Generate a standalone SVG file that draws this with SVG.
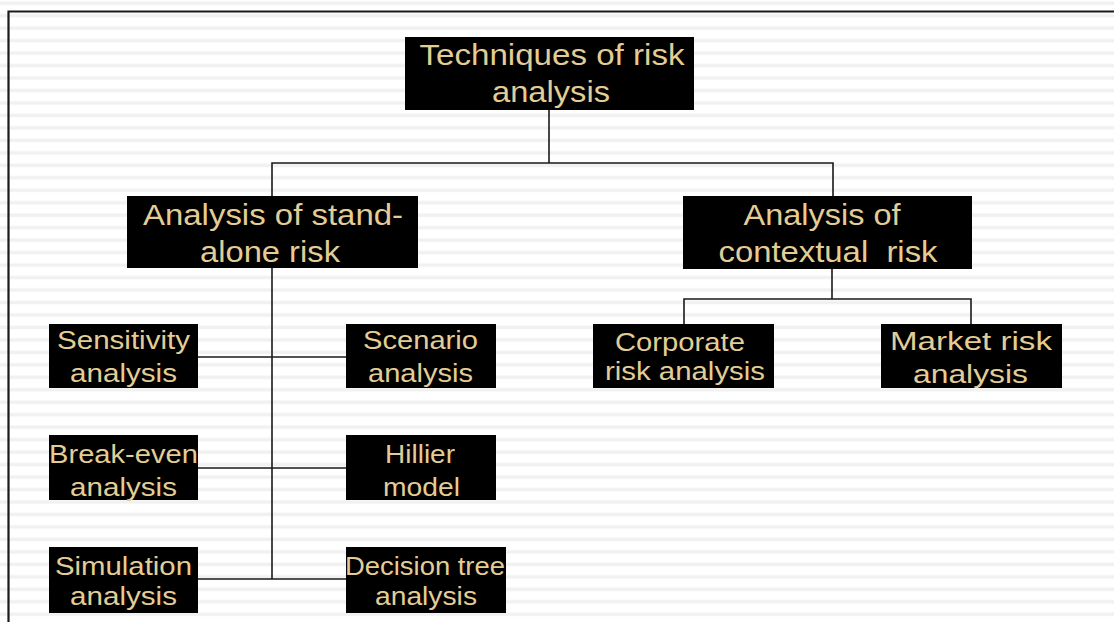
<svg xmlns="http://www.w3.org/2000/svg" width="1114" height="622" viewBox="0 0 1114 622">
<defs>
<pattern id="stripes" patternUnits="userSpaceOnUse" width="1114" height="12.47" y="0">
<rect x="0" y="0" width="1114" height="12.47" fill="#ffffff"/>
<rect x="0" y="1.5" width="1114" height="3.4" fill="#f1f1f1"/>
</pattern>
</defs>
<style>
.box{fill:#000000;}
.t{font-family:"Liberation Sans",Arial,sans-serif;fill:#e3cd97;text-anchor:middle;}
.big{font-size:30px;}
.sm{font-size:25px;}
.conn{stroke:#1a1a1a;stroke-width:1.6;fill:none;}
.frame{stroke:#1a1a1a;stroke-width:2.2;fill:none;}
</style>
<rect x="0" y="0" width="1114" height="622" fill="url(#stripes)"/>
<path class="frame" d="M8.5,640 V11.5 H1130"/>
<g id="connectors">
<path class="conn" d="M549,110 V163"/>
<path class="conn" d="M272,196 V163 H833 V196"/>
<path class="conn" d="M272,268 V579"/>
<path class="conn" d="M198,357 H346"/>
<path class="conn" d="M198,468 H346"/>
<path class="conn" d="M198,579 H346"/>
<path class="conn" d="M832,269 V299"/>
<path class="conn" d="M684,324 V299 H971 V324"/>
</g>
<g id="n-root">
<rect class="box" x="405" y="37" width="289" height="73"/>
<text class="t" style="font-size:29px" x="552" y="65" textLength="265" lengthAdjust="spacingAndGlyphs">Techniques of risk</text>
<text class="t" style="font-size:29px" x="551" y="102" textLength="118" lengthAdjust="spacingAndGlyphs">analysis</text>
</g>
<g id="n-standalone">
<rect class="box" x="127" y="196" width="291" height="72"/>
<text class="t big" x="273" y="225" textLength="260" lengthAdjust="spacingAndGlyphs">Analysis of stand-</text>
<text class="t big" x="270" y="262" textLength="140" lengthAdjust="spacingAndGlyphs">alone risk</text>
</g>
<g id="n-contextual">
<rect class="box" x="683" y="196" width="289" height="73"/>
<text class="t big" x="822" y="225" textLength="157" lengthAdjust="spacingAndGlyphs">Analysis of</text>
<text class="t big" x="828" y="262" textLength="219" lengthAdjust="spacingAndGlyphs" xml:space="preserve">contextual  risk</text>
</g>
<g id="n-sensitivity">
<rect class="box" x="49" y="324" width="149" height="64"/>
<text class="t sm" x="123.5" y="349" textLength="133" lengthAdjust="spacingAndGlyphs">Sensitivity</text>
<text class="t sm" x="123.5" y="382" textLength="107" lengthAdjust="spacingAndGlyphs">analysis</text>
</g>
<g id="n-scenario">
<rect class="box" x="346" y="324" width="150" height="64"/>
<text class="t sm" x="420.5" y="349" textLength="115" lengthAdjust="spacingAndGlyphs">Scenario</text>
<text class="t sm" x="420.5" y="382" textLength="105" lengthAdjust="spacingAndGlyphs">analysis</text>
</g>
<g id="n-breakeven">
<rect class="box" x="49" y="435" width="149" height="65"/>
<text class="t sm" x="123.5" y="463" textLength="149" lengthAdjust="spacingAndGlyphs">Break-even</text>
<text class="t sm" x="123.5" y="496" textLength="107" lengthAdjust="spacingAndGlyphs">analysis</text>
</g>
<g id="n-hillier">
<rect class="box" x="346" y="435" width="150" height="65"/>
<text class="t sm" x="420" y="463" textLength="70" lengthAdjust="spacingAndGlyphs">Hillier</text>
<text class="t sm" x="421.5" y="496" textLength="77" lengthAdjust="spacingAndGlyphs">model</text>
</g>
<g id="n-simulation">
<rect class="box" x="49" y="547" width="149" height="66"/>
<text class="t sm" x="123.5" y="575" textLength="137" lengthAdjust="spacingAndGlyphs">Simulation</text>
<text class="t sm" x="123.5" y="605" textLength="107" lengthAdjust="spacingAndGlyphs">analysis</text>
</g>
<g id="n-decision">
<rect class="box" x="346" y="547" width="160" height="66"/>
<text class="t sm" x="425" y="575" textLength="160" lengthAdjust="spacingAndGlyphs">Decision tree</text>
<text class="t sm" x="426" y="605" textLength="102" lengthAdjust="spacingAndGlyphs">analysis</text>
</g>
<g id="n-corporate">
<rect class="box" x="593" y="324" width="181" height="64"/>
<text class="t sm" x="680" y="351" textLength="130" lengthAdjust="spacingAndGlyphs">Corporate</text>
<text class="t sm" x="685" y="380" textLength="160" lengthAdjust="spacingAndGlyphs">risk analysis</text>
</g>
<g id="n-market">
<rect class="box" x="881" y="324" width="181" height="64"/>
<text class="t sm" x="971" y="350" textLength="162" lengthAdjust="spacingAndGlyphs">Market risk</text>
<text class="t sm" x="970.5" y="383" textLength="115" lengthAdjust="spacingAndGlyphs">analysis</text>
</g>
</svg>
